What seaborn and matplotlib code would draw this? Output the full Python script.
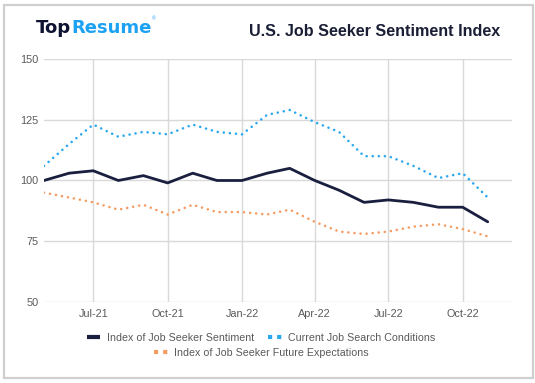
import numpy as np
import pandas as pd
import matplotlib
matplotlib.use("Agg")
import matplotlib.pyplot as plt
import matplotlib.dates as mdates
from matplotlib.lines import Line2D
from matplotlib.patches import Rectangle
import seaborn as sns

# Monthly index values, May 2021 - Nov 2022
months = ['2021-05', '2021-06', '2021-07', '2021-08', '2021-09', '2021-10', '2021-11',
          '2021-12', '2022-01', '2022-02', '2022-03', '2022-04', '2022-05', '2022-06',
          '2022-07', '2022-08', '2022-09', '2022-10', '2022-11']
sentiment = [100, 103, 104, 100, 102, 99, 103, 100, 100, 103, 105, 100, 96, 91, 92, 91, 89, 89, 83]
current = [106, 115, 123, 118, 120, 119, 123, 120, 119, 127, 129, 124, 120, 110, 110, 106, 101, 103, 93]
future = [95, 93, 91, 88, 90, 86, 90, 87, 87, 86, 88, 83, 79, 78, 79, 81, 82, 80, 77]

series_names = ['Index of Job Seeker Sentiment', 'Current Job Search Conditions',
                'Index of Job Seeker Future Expectations']
colors = ['#1a1f3f', '#2ba8ef', '#f59c63']
y_ticks = [50, 75, 100, 125, 150]

df = pd.DataFrame({'month': pd.to_datetime(months), 'sentiment': sentiment,
                   'current': current, 'future': future})

sns.set_style('white')
plt.rcParams['font.family'] = ['Liberation Sans', 'DejaVu Sans']

fig = plt.figure(figsize=(5.35, 3.83), dpi=100)
ax = fig.add_axes([0.0822, 0.2115, 0.8748, 0.6345])

dots = (0, (0.01, 2.3))
sns.lineplot(data=df, x='month', y='sentiment', ax=ax, color=colors[0], lw=2.0)
sns.lineplot(data=df, x='month', y='current', ax=ax, color=colors[1], lw=1.9,
             linestyle=dots, dash_capstyle='round')
sns.lineplot(data=df, x='month', y='future', ax=ax, color=colors[2], lw=1.9,
             linestyle=dots, dash_capstyle='round')

ax.set_ylim(50, 150)
ax.set_yticks(y_ticks)
ax.set_xlim(pd.Timestamp('2021-05-01'), pd.Timestamp('2022-12-01'))
ax.xaxis.set_major_locator(mdates.MonthLocator(bymonth=[1, 4, 7, 10]))
ax.xaxis.set_major_formatter(mdates.DateFormatter('%b-%y'))
ax.set_xlabel('')
ax.set_ylabel('')
ax.grid(True, color='#d9d9d9', lw=1)
ax.set_axisbelow(True)
for s in ax.spines.values():
    s.set_visible(False)
ax.tick_params(axis='both', length=0, labelsize=7.8, labelcolor='#595959')
ax.tick_params(axis='y', pad=4)
ax.tick_params(axis='x', pad=5)

# legend: two rows, centred
def handle(i):
    if i == 0:
        return Line2D([], [], color=colors[i], lw=3, solid_capstyle='butt')
    return Line2D([], [], color=colors[i], lw=3, linestyle=(0, (1, 1.2)))

leg_kw = dict(frameon=False, fontsize=7.7, labelcolor='#595959', handlelength=1.3,
              handletextpad=0.6, columnspacing=1.3, loc='center')
fig.legend([handle(0), handle(1)], series_names[:2], ncol=2,
           bbox_to_anchor=(0.488, 0.117), **leg_kw)
fig.legend([handle(2)], series_names[2:], bbox_to_anchor=(0.488, 0.079), **leg_kw)

# header
fig.text(0.935, 0.917, 'U.S. Job Seeker Sentiment Index', ha='right', va='center',
         fontsize=11.6, fontweight='bold', color='#1a1f36')
t1 = fig.text(0.067, 0.927, 'Top', ha='left', va='center', fontsize=13,
              fontweight='bold', color='#0d1330', family='DejaVu Sans')
fig.canvas.draw()
bb = t1.get_window_extent()
x2 = bb.x1 / fig.bbox.width
t2 = fig.text(x2, 0.927, 'Resume', ha='left', va='center', fontsize=13,
              fontweight='bold', color='#1da1f2', family='DejaVu Sans')
fig.canvas.draw()
bb2 = t2.get_window_extent()
fig.text(bb2.x1 / fig.bbox.width + 0.001, 0.952, '®', ha='left', va='center',
         fontsize=3.5, color='#1da1f2')

# outer frame
fig.patches.append(Rectangle((3.5 / 535, 5 / 383), 529 / 535, 373 / 383,
                             transform=fig.transFigure, fill=False,
                             edgecolor='#cfcfcf', lw=1.6))

fig.savefig('out.png', dpi=100)
